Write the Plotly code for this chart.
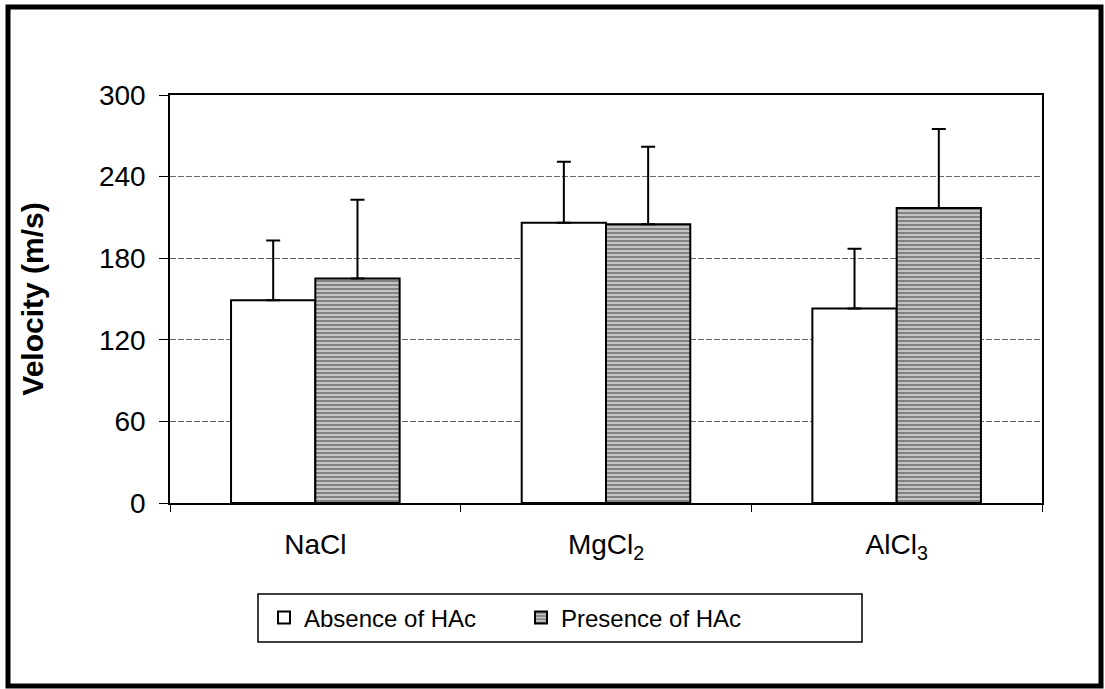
import plotly.graph_objects as go

# Data
salts = ["NaCl", "MgCl<sub>2</sub>", "AlCl<sub>3</sub>"]
absence_vel = [149, 206, 143]
absence_err = [44, 45, 44]
presence_vel = [165, 205, 217]
presence_err = [58, 57, 58]
y_ticks = [0, 60, 120, 180, 240, 300]

W, H = 1105, 689
L, R, T, B = 170, 63, 95, 186
PW, PH = W - L - R, H - T - B


def px(x):
    return (x - L) / PW


def py(y):
    return (H - B - y) / PH


font = "Liberation Sans, Arial, sans-serif"

fig = go.Figure()
fig.add_trace(go.Bar(
    name="Absence of HAc",
    x=salts, y=absence_vel,
    marker=dict(color="white", line=dict(color="black", width=2)),
    error_y=dict(type="data", array=absence_err, arrayminus=[0] * 3,
                 symmetric=False, color="black", thickness=2, width=7),
))
fig.add_trace(go.Bar(
    name="Presence of HAc",
    x=salts, y=presence_vel,
    marker=dict(color="#bdbdbd", line=dict(color="black", width=2),
                pattern=dict(shape="-", fgcolor="#303030", bgcolor="#c4c4c4",
                             size=4, solidity=0.45)),
    error_y=dict(type="data", array=presence_err, arrayminus=[0] * 3,
                 symmetric=False, color="black", thickness=2, width=7),
))

# outer frame of the figure
fig.add_shape(type="rect", xref="paper", yref="paper",
              x0=px(8), x1=px(1101), y0=py(686), y1=py(7),
              line=dict(color="black", width=5), layer="below")
# legend box
fig.add_shape(type="rect", xref="paper", yref="paper",
              x0=px(258), x1=px(862), y0=py(642), y1=py(594),
              line=dict(color="black", width=1.5), layer="below")

fig.update_layout(
    width=W, height=H,
    margin=dict(l=L, r=R, t=T, b=B, pad=0),
    paper_bgcolor="white", plot_bgcolor="white",
    barmode="group", bargap=0.42, bargroupgap=0,
    font=dict(family=font, color="black", size=24),
    showlegend=True,
    legend=dict(orientation="h", x=px(264), y=py(618),
                xanchor="left", yanchor="middle",
                bgcolor="rgba(0,0,0,0)", borderwidth=0,
                entrywidth=212, entrywidthmode="pixels",
                font=dict(size=24, family=font),
                itemclick=False, traceorder="normal"),
    xaxis=dict(showline=True, linecolor="black", linewidth=1.5,
               mirror=True, ticks="outside", ticklen=7, tickcolor="black",
               tickson="boundaries", ticklabelstandoff=16,
               tickfont=dict(size=28), showgrid=False),
    yaxis=dict(range=[0, 300], tickvals=y_ticks,
               showline=True, linecolor="black", linewidth=1.5, mirror=True,
               ticks="outside", ticklen=9, tickcolor="black",
               tickfont=dict(size=28), ticklabelstandoff=8,
               showgrid=True, gridcolor="#666666", gridwidth=1,
               griddash="6px,2px",
               zeroline=False,
               title=dict(text="<b>Velocity (m/s)</b>", font=dict(size=30),
                          standoff=46)),
)

fig.write_html("out.html")
